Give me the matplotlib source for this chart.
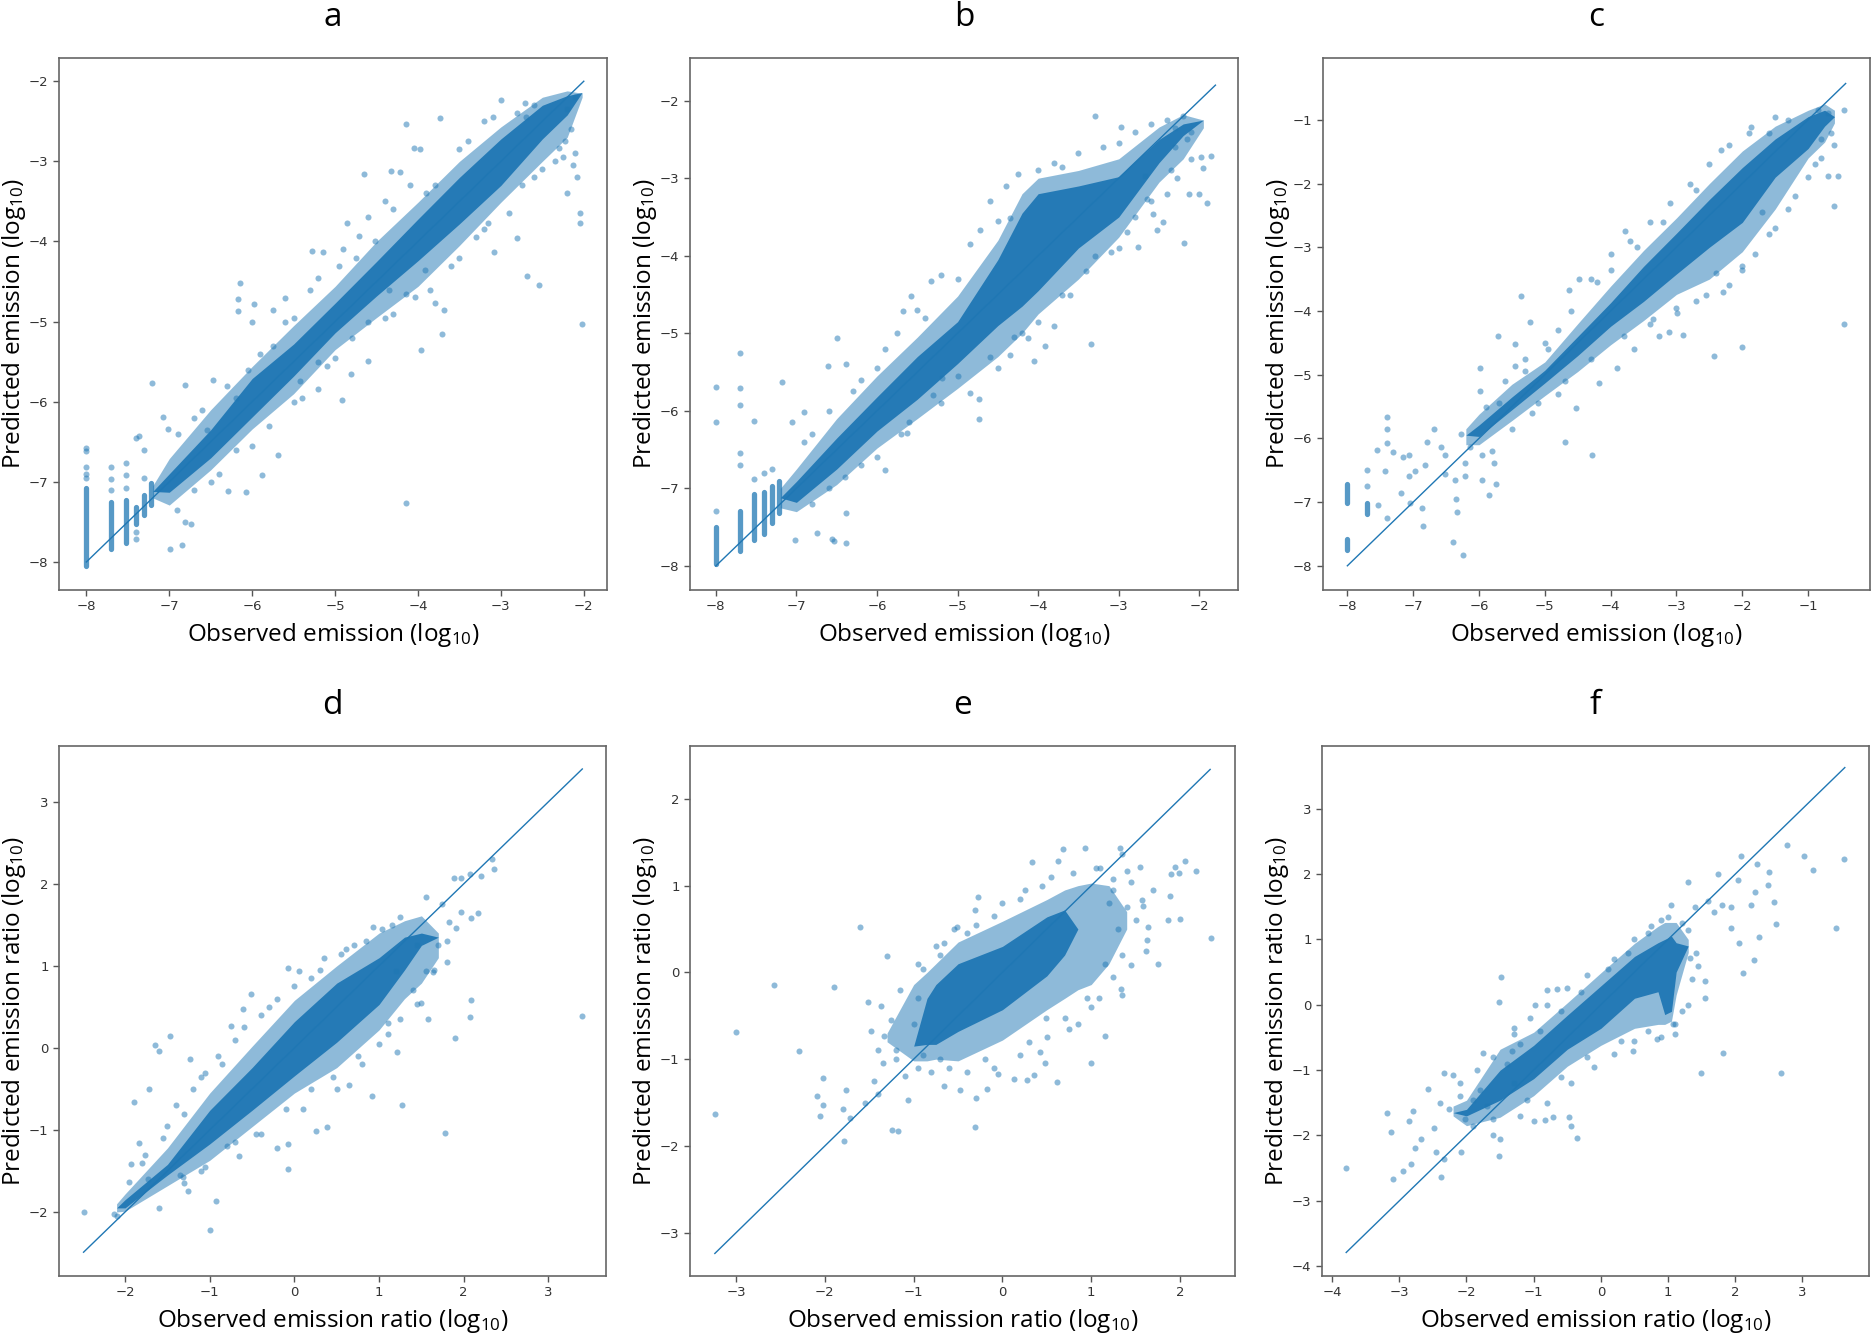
import numpy as np
import matplotlib
matplotlib.use("Agg")
import matplotlib.pyplot as plt
from matplotlib.ticker import MultipleLocator

plt.rcParams['mathtext.fontset'] = 'custom'
plt.rcParams['mathtext.rm'] = 'Open Sans'
plt.rcParams['mathtext.it'] = 'Open Sans:italic'
plt.rcParams['mathtext.bf'] = 'Open Sans:bold'

BLUE = '#1f77b4'

# ---------------- panel a : emission ----------------
# dense cloud read as bands: x, core lo/hi, halo lo/hi
A_BAND_X  = [-7.2, -7.0, -6.5, -6.0, -5.5, -5.0, -4.5, -4.0, -3.5, -3.0, -2.5, -2.2, -2.02]
A_CORE_LO = [-7.12, -7.13, -6.7, -6.19, -5.68, -5.14, -4.68, -4.24, -3.78, -3.3, -2.72, -2.42, -2.14]
A_CORE_HI = [-7.12, -6.9, -6.35, -5.71, -5.28, -4.77, -4.25, -3.72, -3.2, -2.72, -2.3, -2.18, -2.14]
A_HALO_LO = [-7.2, -7.29, -6.85, -6.34, -5.9, -5.35, -4.95, -4.56, -4.05, -3.51, -3.0, -2.7, -2.2]
A_HALO_HI = [-7.05, -6.71, -6.1, -5.56, -5.05, -4.56, -4.0, -3.51, -3.0, -2.57, -2.2, -2.12, -2.15]
A_STRIPES = [(-8.0, -8.05, -7.08), (-7.7, -7.84, -7.25), (-7.52, -7.76, -7.23),
             (-7.4, -7.52, -7.31), (-7.3, -7.42, -7.16), (-7.22, -7.29, -7.02)]
A_PTS = [(-8, -6.58), (-8, -6.62), (-8, -6.81), (-8, -6.9), (-8, -6.95), (-7.7, -6.81),
         (-7.7, -6.97), (-7.7, -7.1), (-7.52, -6.76), (-7.52, -6.92), (-7.52, -7.08),
         (-7.4, -6.45), (-7.4, -7.71), (-7.4, -7.62), (-7.3, -6.95), (-7.3, -6.6),
         (-4.15, -7.27), (-2.02, -5.03), (-2.54, -4.54), (-2.69, -4.43), (-2.05, -3.77),
         (-2.05, -3.64), (-2.08, -3.2), (-2.13, -3.04), (-4.15, -2.53), (-3.74, -2.46),
         (-3.0, -2.24), (-2.71, -2.27), (-4.05, -2.83), (-3.98, -2.84), (-4.32, -3.12),
         (-4.22, -3.13), (-4.65, -3.16), (-4.86, -3.77), (-4.71, -3.93), (-4.52, -4.0),
         (-6.15, -4.52), (-6.17, -4.72), (-5.98, -4.78), (-6.0, -5.0), (-6.17, -4.87),
         (-5.28, -4.12), (-5.15, -4.13), (-5.61, -4.71), (-5.75, -4.86), (-3.96, -5.35),
         (-3.71, -5.16), (-3.69, -4.85), (-4.6, -5.49), (-4.92, -5.98), (-4.81, -5.66),
         (-5.42, -5.74), (-5.2, -5.84), (-5.1, -5.56), (-6.81, -5.79), (-6.47, -5.73),
         (-7.21, -5.77), (-7.08, -6.19), (-7.01, -6.34), (-7.37, -6.43), (-6.99, -7.84),
         (-6.85, -7.79), (-6.74, -7.53), (-6.81, -7.5), (-6.91, -7.35), (-6.08, -7.13),
         (-6.29, -7.12), (-5.69, -6.67), (-5.88, -6.92), (-2.81, -3.96), (-3.08, -4.13),
         (-3.15, -3.77), (-3.91, -4.35), (-4.15, -4.66), (-4.03, -4.69), (-3.79, -4.77),
         (-4.35, -4.61), (-2.3, -2.83), (-2.23, -2.75), (-6.6, -6.1), (-6.3, -5.8),
         (-5.9, -5.4), (-5.6, -5.0), (-5.3, -4.6), (-4.95, -4.3), (-4.6, -3.7),
         (-4.4, -3.5), (-3.8, -3.3), (-3.5, -2.85), (-3.2, -2.5), (-2.7, -2.45),
         (-6.4, -6.9), (-6.0, -6.55), (-5.5, -6.0), (-5.0, -5.45), (-4.6, -5.0),
         (-4.3, -4.9), (-3.6, -4.3), (-3.3, -3.95), (-2.9, -3.65), (-2.5, -3.1),
         (-2.25, -2.95), (-2.15, -2.6), (-2.1, -2.2), (-2.2, -2.35),
         (-6.9, -6.4), (-6.7, -6.2), (-6.55, -6.35), (-6.2, -5.95), (-6.05, -5.6),
         (-5.75, -5.3), (-5.5, -4.95), (-5.2, -4.45), (-4.9, -4.1), (-4.75, -4.2),
         (-4.3, -3.6), (-4.1, -3.3), (-3.9, -3.4), (-3.4, -2.75), (-3.1, -2.45),
         (-2.8, -2.4), (-2.6, -2.3), (-6.7, -7.1), (-6.5, -7.0), (-6.2, -6.6),
         (-5.8, -6.3), (-5.4, -5.95), (-5.2, -5.5), (-4.8, -5.2), (-4.4, -4.95),
         (-3.85, -4.6), (-3.5, -4.2), (-3.2, -3.85), (-2.75, -3.3), (-2.6, -3.2),
         (-2.35, -3.0), (-2.1, -2.9), (-2.2, -3.4)]

# ---------------- panel b : emission ----------------
B_BAND_X  = [-7.2, -7.0, -6.5, -6.0, -5.5, -5.0, -4.5, -4.2, -4.0, -3.5, -3.0, -2.5, -2.2, -1.95]
B_CORE_LO = [-7.12, -7.18, -6.75, -6.26, -5.85, -5.39, -4.9, -4.65, -4.45, -3.9, -3.5, -2.8, -2.45, -2.25]
B_CORE_HI = [-7.12, -6.91, -6.35, -5.82, -5.3, -4.85, -4.05, -3.45, -3.2, -3.1, -2.98, -2.5, -2.3, -2.25]
B_HALO_LO = [-7.25, -7.3, -6.95, -6.48, -6.1, -5.71, -5.3, -5.0, -4.75, -4.3, -3.76, -3.05, -2.75, -2.35]
B_HALO_HI = [-7.0, -6.75, -6.1, -5.55, -5.05, -4.52, -3.8, -3.2, -3.0, -2.9, -2.75, -2.34, -2.18, -2.25]
B_STRIPES = [(-8.0, -7.98, -7.5), (-7.7, -7.81, -7.29), (-7.52, -7.67, -7.07),
             (-7.4, -7.59, -7.05), (-7.3, -7.45, -6.97), (-7.22, -7.32, -6.91)]
B_PTS = [(-8, -5.69), (-8, -6.15), (-8, -7.29), (-7.7, -5.25), (-7.7, -5.7), (-7.7, -5.93),
         (-7.7, -6.54), (-7.7, -6.7), (-7.52, -6.13), (-7.52, -6.88), (-7.4, -6.8),
         (-7.3, -6.75), (-1.98, -2.73), (-1.96, -2.87), (-2.13, -3.2), (-2.0, -3.21),
         (-2.19, -3.84), (-1.91, -3.32), (-2.76, -3.89), (-2.53, -3.67), (-2.65, -3.27),
         (-2.58, -3.46), (-2.28, -3.0), (-2.68, -2.97), (-2.45, -3.57), (-3.29, -2.2),
         (-2.97, -2.34), (-3.51, -2.67), (-3.34, -5.14), (-4.05, -5.36), (-3.91, -5.17),
         (-4.13, -5.06), (-4.35, -5.28), (-4.74, -5.85), (-4.74, -6.1), (-4.84, -5.77),
         (-5.19, -5.58), (-6.49, -5.06), (-6.61, -5.42), (-6.39, -5.39), (-5.68, -4.71),
         (-5.58, -4.52), (-5.33, -4.33), (-4.72, -3.67), (-4.35, -3.51), (-7.06, -6.15),
         (-6.91, -6.01), (-7.18, -5.63), (-7.02, -7.67), (-6.74, -7.58), (-6.56, -7.65),
         (-6.53, -7.68), (-6.38, -7.7), (-6.38, -7.32), (-5.9, -6.76), (-5.63, -6.29),
         (-6.8, -6.3), (-6.2, -5.6), (-5.9, -5.2), (-5.4, -4.8), (-5.0, -4.3),
         (-4.6, -3.3), (-4.4, -3.1), (-3.8, -2.8), (-3.2, -2.6), (-2.8, -2.4),
         (-2.4, -2.25), (-2.3, -2.35), (-2.2, -2.2), (-6.6, -7.0), (-6.2, -6.7),
         (-5.7, -6.3), (-5.2, -5.9), (-4.5, -5.45), (-4.2, -5.0), (-3.8, -4.9),
         (-3.6, -4.5), (-3.3, -4.0), (-3.0, -3.9), (-2.8, -3.5), (-2.4, -3.2),
         (-2.3, -2.6), (-2.15, -2.5), (-1.85, -2.72), (-2.1, -2.4),
         (-6.9, -6.4), (-6.6, -6.0), (-6.3, -5.75), (-6.0, -5.45), (-5.75, -5.0),
         (-5.5, -4.7), (-5.2, -4.25), (-4.85, -3.85), (-4.5, -3.55), (-4.25, -2.95),
         (-4.0, -2.9), (-3.7, -2.85), (-3.0, -2.55), (-2.6, -2.3), (-6.8, -7.2),
         (-6.4, -6.85), (-6.0, -6.6), (-5.6, -6.15), (-5.3, -5.8), (-5.0, -5.55),
         (-4.6, -5.3), (-4.3, -5.05), (-4.0, -4.85), (-3.7, -4.5), (-3.4, -4.2),
         (-3.1, -3.95), (-2.9, -3.7), (-2.6, -3.3), (-2.35, -2.9), (-2.1, -2.75)]

# ---------------- panel c : emission ----------------
C_BAND_X  = [-6.2, -6.0, -5.5, -5.0, -4.5, -4.0, -3.5, -3.0, -2.5, -2.0, -1.5, -1.0, -0.75, -0.6]
C_CORE_LO = [-5.95, -5.97, -5.55, -5.13, -4.7, -4.24, -3.85, -3.42, -3.0, -2.61, -1.9, -1.45, -1.1, -0.95]
C_CORE_HI = [-5.95, -5.79, -5.35, -4.93, -4.4, -3.87, -3.3, -2.78, -2.25, -1.75, -1.3, -0.95, -0.85, -0.95]
C_HALO_LO = [-6.1, -6.1, -5.72, -5.33, -4.95, -4.53, -4.15, -3.74, -3.5, -3.07, -2.4, -1.6, -1.35, -1.05]
C_HALO_HI = [-5.85, -5.62, -5.15, -4.8, -4.2, -3.61, -3.05, -2.54, -2.0, -1.49, -1.1, -0.85, -0.75, -0.85]
C_STRIPES = [(-8.0, -7.02, -6.72), (-8.0, -7.75, -7.58), (-7.7, -7.18, -7.02)]
C_PTS = [(-7.7, -6.49), (-7.7, -6.75), (-7.55, -6.19), (-7.4, -5.66), (-7.4, -5.85),
         (-7.4, -6.07), (-7.43, -6.52), (-7.31, -6.22), (-7.16, -6.29), (-7.06, -6.26),
         (-7.06, -6.59), (-7.19, -6.85), (-7.53, -7.05), (-7.4, -7.25), (-7.05, -7.02),
         (-6.87, -7.09), (-6.85, -7.38), (-6.97, -6.52), (-6.82, -6.42), (-6.79, -6.06),
         (-6.69, -5.86), (-6.52, -6.56), (-6.37, -6.65), (-6.52, -6.26), (-6.58, -6.13),
         (-6.28, -5.93), (-6.13, -6.13), (-6.22, -6.39), (-6.22, -6.59), (-5.95, -6.65),
         (-5.95, -6.26), (-5.77, -6.39), (-5.74, -6.72), (-5.85, -6.89), (-6.35, -6.95),
         (-6.34, -7.15), (-6.39, -7.62), (-6.24, -7.83), (-5.99, -5.26), (-5.99, -4.9),
         (-5.71, -4.4), (-5.36, -3.77), (-5.22, -4.17), (-5.45, -4.52), (-5.45, -4.87),
         (-4.95, -4.6), (-4.64, -3.67), (-4.48, -3.5), (-4.7, -6.05), (-4.28, -6.26),
         (-4.53, -5.53), (-4.17, -5.13), (-3.65, -4.59), (-3.27, -4.4), (-3.11, -4.33),
         (-2.9, -4.37), (-2.99, -4.04), (-3.35, -4.13), (-2.43, -4.7), (-2.01, -4.57),
         (-0.46, -4.2), (-0.61, -2.35), (-0.55, -1.88), (-0.7, -1.88), (-0.46, -0.85),
         (-1.87, -1.11), (-2.33, -1.48), (-3.78, -2.74), (-3.99, -3.11), (-1.7, -2.44),
         (-2.4, -3.4), (-2.2, -3.6), (-2.0, -3.3), (-1.8, -3.1), (-2.55, -3.75),
         (-2.3, -3.7), (-1.5, -2.7), (-1.2, -2.2), (-0.9, -1.7), (-0.8, -1.3),
         (-0.65, -1.2), (-0.7, -0.9), (-0.85, -0.85), (-1.3, -1.0), (-1.6, -1.2),
         (-2.7, -2.1), (-3.2, -2.6), (-3.6, -3.0), (-4.2, -3.55), (-4.8, -4.3),
         (-5.3, -4.95), (-5.7, -5.45), (-5.2, -5.6), (-4.8, -5.3), (-3.9, -4.9),
         (-5.9, -5.5), (-5.6, -5.1), (-5.3, -4.75), (-5.0, -4.5), (-4.6, -4.0),
         (-4.3, -3.5), (-4.0, -3.35), (-3.7, -2.9), (-3.4, -2.6), (-3.1, -2.3),
         (-2.8, -2.0), (-2.5, -1.7), (-2.2, -1.4), (-1.9, -1.2), (-1.5, -0.95),
         (-5.8, -6.2), (-5.5, -5.85), (-5.1, -5.45), (-4.7, -5.1), (-4.3, -4.75),
         (-3.8, -4.4), (-3.4, -4.2), (-3.0, -3.95), (-2.7, -3.85), (-2.0, -3.35),
         (-1.6, -2.8), (-1.3, -2.4), (-1.0, -1.9), (-0.8, -1.6), (-0.6, -1.4)]

# ---------------- panel d : emission ratio ----------------
D_BAND_X  = [-2.1, -2.0, -1.5, -1.0, -0.5, 0.0, 0.5, 1.0, 1.3, 1.5, 1.7]
D_CORE_LO = [-1.95, -1.95, -1.55, -1.17, -0.76, -0.34, 0.07, 0.53, 0.95, 1.25, 1.35]
D_CORE_HI = [-1.95, -1.85, -1.42, -0.76, -0.24, 0.32, 0.79, 1.1, 1.35, 1.4, 1.35]
D_HALO_LO = [-2.0, -1.99, -1.68, -1.37, -0.96, -0.55, -0.24, 0.22, 0.6, 0.79, 1.1]
D_HALO_HI = [-1.9, -1.78, -1.22, -0.55, 0.02, 0.58, 1.0, 1.4, 1.55, 1.61, 1.4]
D_PTS = [(-2.49, -2.0), (-2.13, -2.02), (-2.1, -2.05), (-1.95, -1.64), (-1.9, -0.66),
         (-1.65, 0.04), (-1.6, -0.04), (-1.47, 0.15), (-1.72, -0.5), (-1.84, -1.16),
         (-1.93, -1.42), (-1.76, -1.3), (-1.73, -1.6), (-1.26, -1.74), (-1.32, -1.57),
         (-0.93, -1.87), (-1.0, -2.22), (-0.07, -1.48), (-0.07, -1.17), (0.39, -0.96),
         (0.92, -0.58), (1.27, -0.69), (1.78, -1.04), (1.9, 0.12), (2.07, 0.38),
         (2.09, 0.58), (3.4, 0.39), (2.36, 2.18), (2.33, 2.3), (2.07, 2.12),
         (1.97, 2.07), (1.88, 2.07), (1.97, 1.66), (2.17, 1.64), (2.09, 1.58),
         (1.91, 1.46), (1.82, 1.53), (1.74, 1.76), (1.55, 1.84), (1.55, 0.94),
         (1.64, 0.92), (1.45, 0.53), (1.58, 0.35), (1.2, 0.94), (1.03, 1.45),
         (0.93, 1.47), (0.61, 1.2), (0.35, 1.1), (-0.08, 0.97), (0.05, 0.94),
         (-0.51, 0.66), (-0.61, 0.48), (-0.75, 0.27), (-1.23, -0.14), (-0.66, -1.32),
         (-0.2, -1.22), (0.25, -1.01), (0.64, -0.45), (1.11, 0.17), (1.21, -0.05),
         (-1.5, -0.95), (-1.4, -0.7), (-1.2, -0.5), (-1.05, -0.3), (-0.9, -0.1),
         (-0.7, 0.1), (-0.4, 0.4), (-0.2, 0.6), (0.2, 0.85), (0.7, 1.25),
         (-1.6, -1.95), (-1.3, -1.65), (-1.1, -1.5), (-0.8, -1.2), (-0.4, -1.05),
         (0.1, -0.75), (0.5, -0.5), (0.8, -0.2), (1.1, 0.3), (1.4, 0.7),
         (1.7, 1.25), (1.8, 1.05), (1.25, 1.6), (1.45, 1.25), (2.2, 2.1),
         (-1.8, -1.4), (-1.55, -1.1), (-1.3, -0.8), (-1.1, -0.35), (-0.85, -0.2),
         (-0.6, 0.25), (-0.3, 0.5), (0.0, 0.75), (0.3, 0.95), (0.55, 1.15),
         (0.85, 1.3), (1.15, 1.5), (-1.35, -1.55), (-1.05, -1.45), (-0.7, -1.15),
         (-0.45, -1.05), (-0.1, -0.75), (0.2, -0.5), (0.45, -0.35), (0.75, -0.1),
         (1.0, 0.05), (1.25, 0.35), (1.5, 0.55), (1.65, 0.95), (1.8, 1.3)]

# ---------------- panel e : emission ratio ----------------
E_BAND_X  = [-1.3, -1.0, -0.85, -0.75, -0.5, 0.0, 0.5, 0.7, 0.85, 1.0, 1.2, 1.4]
E_CORE_LO = [-0.85, -0.85, -0.83, -0.83, -0.68, -0.43, -0.04, 0.2, 0.5, 0.6, 0.6, 0.6]
E_CORE_HI = [-0.85, -0.85, -0.3, -0.14, 0.1, 0.3, 0.64, 0.72, 0.5, 0.6, 0.6, 0.6]
E_HALO_LO = [-0.8, -1.02, -1.02, -1.0, -1.02, -0.78, -0.43, -0.3, -0.2, -0.14, 0.1, 0.5]
E_HALO_HI = [-0.7, -0.14, 0.0, 0.1, 0.35, 0.59, 0.84, 0.95, 1.0, 1.03, 1.0, 0.7]
E_PTS = [(-3.24, -1.63), (-3.0, -0.69), (-2.57, -0.14), (-2.29, -0.91), (-1.9, -0.17),
         (-1.6, 0.52), (-1.3, 0.19), (-2.02, -1.22), (-2.09, -1.42), (-2.02, -1.53),
         (-2.06, -1.65), (-1.76, -1.35), (-1.8, -1.58), (-1.72, -1.68), (-1.79, -1.94),
         (-1.48, -0.68), (-1.51, -0.34), (-1.37, -0.39), (-1.33, -0.73), (-1.24, -1.82),
         (-1.18, -1.83), (-1.06, -1.47), (-0.9, -0.95), (-0.66, -1.31), (-0.48, -1.36),
         (-0.31, -1.78), (-0.3, -1.45), (-0.17, -1.34), (-0.05, -1.17), (0.13, -1.23),
         (0.28, -1.24), (0.36, -1.18), (0.42, -0.92), (0.62, -1.26), (0.49, -0.53),
         (0.71, -0.53), (0.95, -0.29), (1.09, -0.29), (1.34, -0.19), (1.35, -0.26),
         (1.45, 0.09), (1.62, 0.25), (1.75, 0.1), (1.63, 0.37), (1.64, 0.52),
         (1.58, 0.76), (1.57, 0.83), (1.87, 0.6), (2.0, 0.61), (2.35, 0.4),
         (1.99, 1.15), (1.9, 1.13), (1.94, 1.22), (2.06, 1.29), (2.18, 1.17),
         (1.89, 0.88), (1.35, 1.36), (1.33, 1.43), (0.93, 1.43), (0.68, 1.42),
         (0.33, 1.27), (0.63, 1.28), (1.4, 1.17), (1.45, 1.04), (1.24, 1.08),
         (1.55, 1.22), (-0.27, 0.87), (-0.31, 0.72), (-0.51, 0.52), (-0.66, 0.34),
         (-0.89, 0.04), (1.15, -0.73), (1.0, -1.05), (0.48, -1.05),
         (-1.45, -1.25), (-1.35, -1.05), (-1.2, -0.9), (-1.1, -1.2), (-1.55, -1.5),
         (-1.4, -1.4), (-1.0, -0.6), (-0.95, -0.3), (-0.7, 0.2), (-0.4, 0.45),
         (-0.1, 0.65), (0.2, 0.85), (0.45, 1.0), (1.1, 1.2), (1.2, 0.8),
         (1.3, 0.5), (1.15, 0.1), (0.85, -0.6), (0.3, -0.8), (-0.2, -1.0),
         (-0.6, -1.1), (-0.8, -1.15), (1.5, 0.6), (1.7, 0.95),
         (-1.25, -0.55), (-1.15, -0.2), (-0.95, 0.1), (-0.75, 0.3), (-0.55, 0.5),
         (-0.3, 0.55), (0.0, 0.8), (0.25, 0.95), (0.55, 1.1), (0.8, 1.15),
         (1.05, 1.2), (1.25, 0.95), (1.4, 0.75), (1.35, 0.2), (1.25, -0.05),
         (1.0, -0.4), (0.75, -0.65), (0.5, -0.75), (0.2, -0.95), (-0.1, -1.1),
         (-0.4, -1.15), (-0.7, -1.0), (-0.95, -1.1), (-1.2, -1.0), (-1.4, -0.9)]

# ---------------- panel f : emission ratio ----------------
F_BAND_X  = [-2.2, -2.0, -1.5, -1.0, -0.5, 0.0, 0.5, 0.85, 0.95, 1.05, 1.12, 1.3]
F_CORE_LO = [-1.65, -1.7, -1.46, -1.13, -0.68, -0.36, 0.1, 0.2, -0.15, -0.1, 0.5, 0.9]
F_CORE_HI = [-1.65, -1.6, -1.0, -0.62, -0.16, 0.29, 0.74, 0.95, 1.0, 1.05, 0.95, 0.9]
F_HALO_LO = [-1.7, -1.85, -1.72, -1.39, -0.94, -0.62, -0.36, -0.3, -0.3, -0.25, 0.15, 0.8]
F_HALO_HI = [-1.55, -1.46, -0.68, -0.42, 0.03, 0.49, 0.94, 1.2, 1.26, 1.26, 1.26, 1.0]
F_PTS = [(-3.79, -2.49), (-3.19, -1.65), (-3.12, -1.94), (-3.09, -2.66), (-2.94, -2.54),
         (-2.82, -2.43), (-2.79, -1.62), (-2.85, -1.78), (-2.77, -2.19), (-2.67, -2.06),
         (-2.58, -1.29), (-2.49, -1.89), (-2.46, -2.26), (-2.38, -2.64), (-2.33, -2.36),
         (-2.33, -1.04), (-2.2, -1.07), (-2.08, -2.26), (-2.26, -1.59), (-2.02, -1.75),
         (-1.9, -1.46), (-1.75, -0.74), (-1.51, -2.31), (-1.49, 0.42), (-1.52, 0.05),
         (-1.33, -0.71), (-1.3, -0.36), (-0.83, -1.77), (-0.71, -1.72), (-0.47, -1.72),
         (-0.44, -1.86), (-0.35, -2.04), (-1.0, -1.78), (-1.6, -2.0), (-0.98, 0.0),
         (-0.8, 0.23), (-0.65, 0.24), (1.82, -0.74), (1.49, -1.04), (2.68, -1.04),
         (1.55, 0.36), (1.55, 0.11), (1.32, 0.71), (1.42, 0.8), (1.08, -0.29),
         (0.84, -0.52), (0.48, -0.71), (2.06, 0.94), (2.11, 0.49), (2.28, 0.68),
         (2.36, 1.04), (2.6, 1.23), (3.5, 1.17), (3.62, 2.23), (3.16, 2.06),
         (3.03, 2.27), (2.77, 2.45), (2.5, 2.03), (2.49, 1.83), (2.57, 1.57),
         (2.29, 1.72), (2.24, 1.53), (2.33, 2.15), (2.08, 2.27), (2.04, 1.91),
         (1.94, 1.49), (1.93, 1.18), (1.74, 2.0), (1.8, 1.52), (1.68, 1.42),
         (1.6, 1.59), (1.3, 1.88), (1.05, 1.52),
         (-1.8, -1.3), (-1.7, -1.55), (-1.6, -1.75), (-1.9, -1.85), (-2.1, -1.4),
         (-1.4, -0.9), (-1.2, -0.6), (-0.9, -0.4), (-0.6, -0.1), (-0.3, 0.2),
         (0.1, 0.55), (0.4, 0.8), (0.7, 1.1), (1.2, 1.25), (1.35, 0.4),
         (1.2, -0.1), (1.1, -0.45), (0.7, -0.4), (0.3, -0.55), (-0.2, -0.8),
         (-0.6, -1.1), (-1.1, -1.45), (-1.3, -1.2), (0.9, 1.3), (1.4, 1.5),
         (-2.4, -1.5), (-2.1, -1.2), (-1.85, -1.0), (-1.6, -0.8), (-1.3, -0.45),
         (-1.05, -0.2), (-0.8, 0.0), (-0.5, 0.25), (-0.2, 0.45), (0.2, 0.7),
         (0.5, 1.0), (0.75, 1.2), (1.0, 1.35), (1.3, 1.15), (1.45, 0.6),
         (1.3, 0.0), (1.1, -0.3), (0.9, -0.5), (0.5, -0.55), (0.2, -0.75),
         (-0.1, -0.95), (-0.45, -1.2), (-0.8, -1.5), (-1.2, -1.7), (-1.5, -2.05)]

PANELS = [
    ('a', A_BAND_X, A_CORE_LO, A_CORE_HI, A_HALO_LO, A_HALO_HI, A_STRIPES, A_PTS, (-8.0, -2.0)),
    ('b', B_BAND_X, B_CORE_LO, B_CORE_HI, B_HALO_LO, B_HALO_HI, B_STRIPES, B_PTS, (-8.0, -1.8)),
    ('c', C_BAND_X, C_CORE_LO, C_CORE_HI, C_HALO_LO, C_HALO_HI, C_STRIPES, C_PTS, (-8.0, -0.43)),
    ('d', D_BAND_X, D_CORE_LO, D_CORE_HI, D_HALO_LO, D_HALO_HI, [], D_PTS, (-2.49, 3.4)),
    ('e', E_BAND_X, E_CORE_LO, E_CORE_HI, E_HALO_LO, E_HALO_HI, [], E_PTS, (-3.24, 2.34)),
    ('f', F_BAND_X, F_CORE_LO, F_CORE_HI, F_HALO_LO, F_HALO_HI, [], F_PTS, (-3.79, 3.63)),
]

# axes boxes in pixels (left, top, right, bottom) and limits
BOXES = [(59, 58, 607, 590), (690, 58, 1238, 590), (1323, 58, 1870, 590),
         (59, 746, 606, 1276), (690, 746, 1235, 1276), (1322, 746, 1869, 1276)]
LIMS = [((-8.33, -1.72), (-8.35, -1.71)), ((-8.32, -1.52), (-8.31, -1.45)),
        ((-8.37, -0.06), (-8.38, -0.03)), ((-2.78, 3.68), (-2.78, 3.68)),
        ((-3.52, 2.62), (-3.5, 2.61)), ((-4.15, 3.99), (-4.15, 3.96))]

W, H = 1873, 1341
fig = plt.figure(figsize=(W / 100, H / 100), dpi=100)
LABEL_FONT = 'Open Sans'

for i, (name, bx, clo, chi, hlo, hhi, stripes, pts, line) in enumerate(PANELS):
    left, top, right, bottom = BOXES[i]
    ax = fig.add_axes([left / W, 1 - bottom / H, (right - left) / W, (bottom - top) / H])

    ax.fill_between(bx, hlo, hhi, color=BLUE, alpha=0.5, lw=0)
    ax.fill_between(bx, clo, chi, color=BLUE, alpha=0.95, lw=0)
    for sx, slo, shi in stripes:
        ax.vlines(sx, slo, shi, color=BLUE, lw=3.8, alpha=0.75, capstyle='round')
    p = np.array(pts)
    ax.scatter(p[:, 0], p[:, 1], s=19, color=BLUE, alpha=0.5, linewidths=0)
    ax.plot(line, line, color=BLUE, lw=1.0)

    ax.set_xlim(LIMS[i][0])
    ax.set_ylim(LIMS[i][1])
    ax.xaxis.set_major_locator(MultipleLocator(1))
    ax.yaxis.set_major_locator(MultipleLocator(1))
    ax.tick_params(labelsize=9.5, colors='#555555', labelcolor='#333333', width=1.0, length=4)
    for sp in ax.spines.values():
        sp.set_color('#666666')
        sp.set_linewidth(1.2)

    cx = (left + right) / 2
    cy = (top + bottom) / 2
    if i < 3:
        xl = 'Observed emission (log$_\\mathrm{10}$)'
        yl = 'Predicted emission (log$_\\mathrm{10}$)'
    else:
        xl = 'Observed emission ratio (log$_\\mathrm{10}$)'
        yl = 'Predicted emission ratio (log$_\\mathrm{10}$)'
    fig.text(cx / W, 1 - (top - 41) / H, name, ha='center', va='center',
             fontsize=24, family=LABEL_FONT)
    fig.text(cx / W, 1 - (bottom + 51) / H, xl, ha='center', va='baseline',
             fontsize=17.5, family=LABEL_FONT)
    fig.text((left - 45) / W, 1 - cy / H, yl, ha='center', va='center', rotation=90,
             fontsize=17.5, family=LABEL_FONT)

fig.savefig('out.png', dpi=100, facecolor='white')
